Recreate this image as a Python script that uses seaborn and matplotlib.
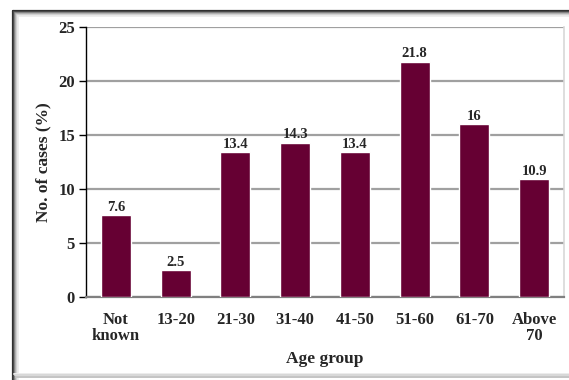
import matplotlib
matplotlib.use("Agg")
import matplotlib.pyplot as plt
from matplotlib.lines import Line2D
import seaborn as sns
import pandas as pd
import numpy as np

age_groups = ["Not\nknown", "13-20", "21-30", "31-40", "41-50", "51-60", "61-70", "Above\n70"]
cases_pct = [7.6, 2.5, 13.4, 14.3, 13.4, 21.8, 16, 10.9]
value_labels = ["7.6", "2.5", "13.4", "14.3", "13.4", "21.8", "16", "10.9"]
y_ticks = [0, 5, 10, 15, 20, 25]

sns.set_style("white")
plt.rcParams["font.family"] = ["Liberation Serif", "DejaVu Serif"]
plt.rcParams["font.weight"] = "bold"

df = pd.DataFrame({"Age group": age_groups, "Cases": cases_pct})

fig = plt.figure(figsize=(5.69, 3.80), dpi=100)
fig.patch.set_facecolor("white")
ax = fig.add_axes([86 / 569, 1 - 297 / 380, (564 - 86) / 569, (297 - 27) / 380])

sns.barplot(data=df, x="Age group", y="Cases", color="#660033", width=0.5,
            saturation=1, ax=ax, zorder=3)

ax.set_ylim(0, 25)
ax.set_xlim(-0.5, len(age_groups) - 0.5)
ax.set_yticks(y_ticks)
ax.set_yticklabels([str(t) for t in y_ticks], fontsize=12, fontweight="bold")
ax.yaxis.grid(True, color="#a0a0a0", linewidth=1.6, zorder=0)
ax.set_axisbelow(True)

# category labels centred under bars, tick marks between categories
ax.set_xticks(range(len(age_groups)))
ax.set_xticklabels(age_groups, fontsize=12, fontweight="bold", linespacing=1.0)
ax.tick_params(axis="x", which="major", length=0, pad=11)
ax.set_xticks(np.arange(-0.5, len(age_groups)), minor=True)
ax.tick_params(axis="x", which="minor", length=5, width=1.2, color="black", direction="out")
ax.tick_params(axis="y", length=5, width=1, color="black", direction="out", pad=3, left=True)

ax.spines["top"].set_visible(False)
ax.spines["left"].set_color("black")
ax.spines["left"].set_linewidth(1.0)
ax.spines["bottom"].set_color("#808080")
ax.spines["bottom"].set_linewidth(1.6)
ax.spines["right"].set_color("#d8d8d8")
ax.spines["right"].set_linewidth(1.2)

for cont in ax.containers:
    ax.bar_label(cont, labels=value_labels, fontsize=10.5, fontweight="bold", padding=1)

ax.set_xlabel("Age group", fontsize=12.5, fontweight="bold", labelpad=5)
ax.set_ylabel("No. of cases (%)", fontsize=12.5, fontweight="bold", labelpad=5)

# outer frame with soft shadow on the left and top
W, H = 569, 380
shades = ["#303030", "#505050", "#8a8a8a", "#b5b5b5", "#d5d5d5", "#ebebeb"]
for i, c in enumerate(shades):
    lw = 1.2 if i else 1.6
    x = (12.5 + i) / W
    y = 1 - (10.5 + i) / H
    fig.add_artist(Line2D([x, x], [0, y], color=c, linewidth=lw, transform=fig.transFigure))
    fig.add_artist(Line2D([x, 1], [y, y], color=c, linewidth=lw, transform=fig.transFigure))
for i, c in enumerate(["#ececec", "#d8d8d8", "#c4c4c4"]):
    y = (6.5 - i * 1.5) / H
    fig.add_artist(Line2D([(14 + i) / W, 1], [y, y], color=c, linewidth=1.4, transform=fig.transFigure))

fig.savefig("out.png", dpi=100, facecolor="white")
